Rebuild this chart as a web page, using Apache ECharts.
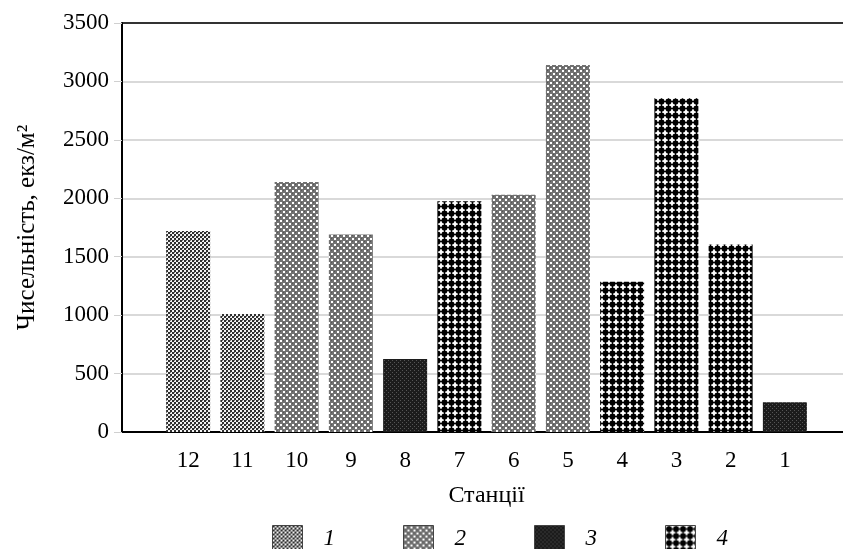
<!DOCTYPE html>
<html>
<head>
<meta charset="utf-8">
<script src="https://cdn.jsdelivr.net/npm/echarts@6/dist/echarts.min.js"></script>
<style>
  html, body { margin: 0; padding: 0; background: #fff; }
  #chart { width: 843px; height: 549px; }
</style>
</head>
<body>
<div id="chart"></div>
<script>
// станції та чисельність (екз/м2), групи 1-4
var stations = ["12", "11", "10", "9", "8", "7", "6", "5", "4", "3", "2", "1"];
var values = [1720, 1010, 2140, 1690, 625, 1975, 2030, 3140, 1285, 2855, 1605, 255];
var groupOf = [1, 1, 2, 2, 3, 4, 2, 2, 4, 4, 4, 3];
var groupNames = ["1", "2", "3", "4"];
var yTicks = [0, 500, 1000, 1500, 2000, 2500, 3000, 3500];

var FONT = "Liberation Serif";

// маленькі канвас-візерунки для штрихування
function tile(size, draw) {
  var c = document.createElement("canvas");
  c.width = size;
  c.height = size;
  draw(c.getContext("2d"));
  return c;
}
var patterns = [
  tile(4, function (g) {
    g.fillStyle = "#f2f2f2"; g.fillRect(0, 0, 4, 4);
    g.fillStyle = "#2e2e2e"; g.fillRect(0, 0, 2, 2); g.fillRect(2, 2, 2, 2);
    g.fillStyle = "#777"; g.fillRect(2, 0, 1, 1);
  }),
  tile(6, function (g) {
    g.fillStyle = "#727272"; g.fillRect(0, 0, 6, 6);
    g.fillStyle = "#fff"; g.fillRect(1, 1, 2, 2); g.fillRect(4, 4, 2, 2);
    g.fillStyle = "#555"; g.fillRect(4, 1, 1, 1); g.fillRect(1, 4, 1, 1);
  }),
  tile(4, function (g) {
    g.fillStyle = "#1c1c1c"; g.fillRect(0, 0, 4, 4);
    g.fillStyle = "#555"; g.fillRect(0, 0, 1, 1); g.fillRect(2, 2, 1, 1);
  }),
  tile(7, function (g) {
    g.fillStyle = "#fff"; g.fillRect(0, 0, 7, 7);
    g.fillStyle = "#000";
    g.beginPath(); g.arc(3.5, 3.5, 3.1, 0, Math.PI * 2); g.fill();
    g.fillRect(3, 0, 1, 7); g.fillRect(0, 3, 7, 1);
  })
];

var series = groupNames.map(function (name, k) {
  return {
    name: name,
    type: "bar",
    xAxisIndex: 1,
    yAxisIndex: 1,
    barWidth: 44,
    barGap: "-100%",
    itemStyle: { color: { image: patterns[k], repeat: "repeat" } },
    data: values.map(function (v, i) { return groupOf[i] === k + 1 ? v : "-"; })
  };
});

var chart = echarts.init(document.getElementById("chart"));
chart.setOption({
  backgroundColor: "#fff",
  animation: false,
  grid: [
    { left: 122, right: 0, top: 23, bottom: 117 },
    { left: 161, right: 31, top: 23, bottom: 117 }
  ],
  legend: {
    left: 267,
    top: 520,
    itemWidth: 30,
    itemHeight: 27,
    itemGap: 68,
    icon: "rect",
    itemStyle: { borderColor: "#444", borderWidth: 1 },
    textStyle: {
      fontFamily: FONT, fontSize: 23, fontStyle: "italic", color: "#000",
      padding: [0, 0, 0, 16]
    },
    data: groupNames
  },
  xAxis: [
    {
      type: "category", gridIndex: 0, data: [""],
      axisLine: { lineStyle: { color: "#000", width: 2 } },
      axisTick: { show: false }, axisLabel: { show: false }
    },
    {
      type: "category", gridIndex: 1, data: stations,
      axisLine: { show: false }, axisTick: { show: false },
      axisLabel: { fontFamily: FONT, fontSize: 23, color: "#000", margin: 17 },
      name: "Станції", nameLocation: "middle", nameGap: 52,
      nameTextStyle: { fontFamily: FONT, fontSize: 24, color: "#000" }
    }
  ],
  yAxis: [
    {
      type: "value", gridIndex: 0, min: 0, max: 3500, interval: 500,
      axisLine: { show: true, lineStyle: { color: "#000", width: 2 } },
      axisTick: { show: true, length: 8, lineStyle: { color: "#d0d0d0" } },
      axisLabel: {
        fontFamily: FONT, fontSize: 23, color: "#000", margin: 13,
        formatter: function (v) { return yTicks.indexOf(v) >= 0 ? String(v) : ""; }
      },
      splitLine: {
        lineStyle: {
          color: ["#d9d9d9", "#d9d9d9", "#d9d9d9", "#d9d9d9", "#d9d9d9", "#d9d9d9", "#d9d9d9", "#333"],
          width: 2
        }
      },
      name: "Чисельність, екз/м²", nameLocation: "middle", nameGap: 82,
      nameTextStyle: { fontFamily: FONT, fontSize: 25, color: "#000" }
    },
    { type: "value", gridIndex: 1, min: 0, max: 3500, interval: 500, show: false }
  ],
  series: series
});
</script>
</body>
</html>
